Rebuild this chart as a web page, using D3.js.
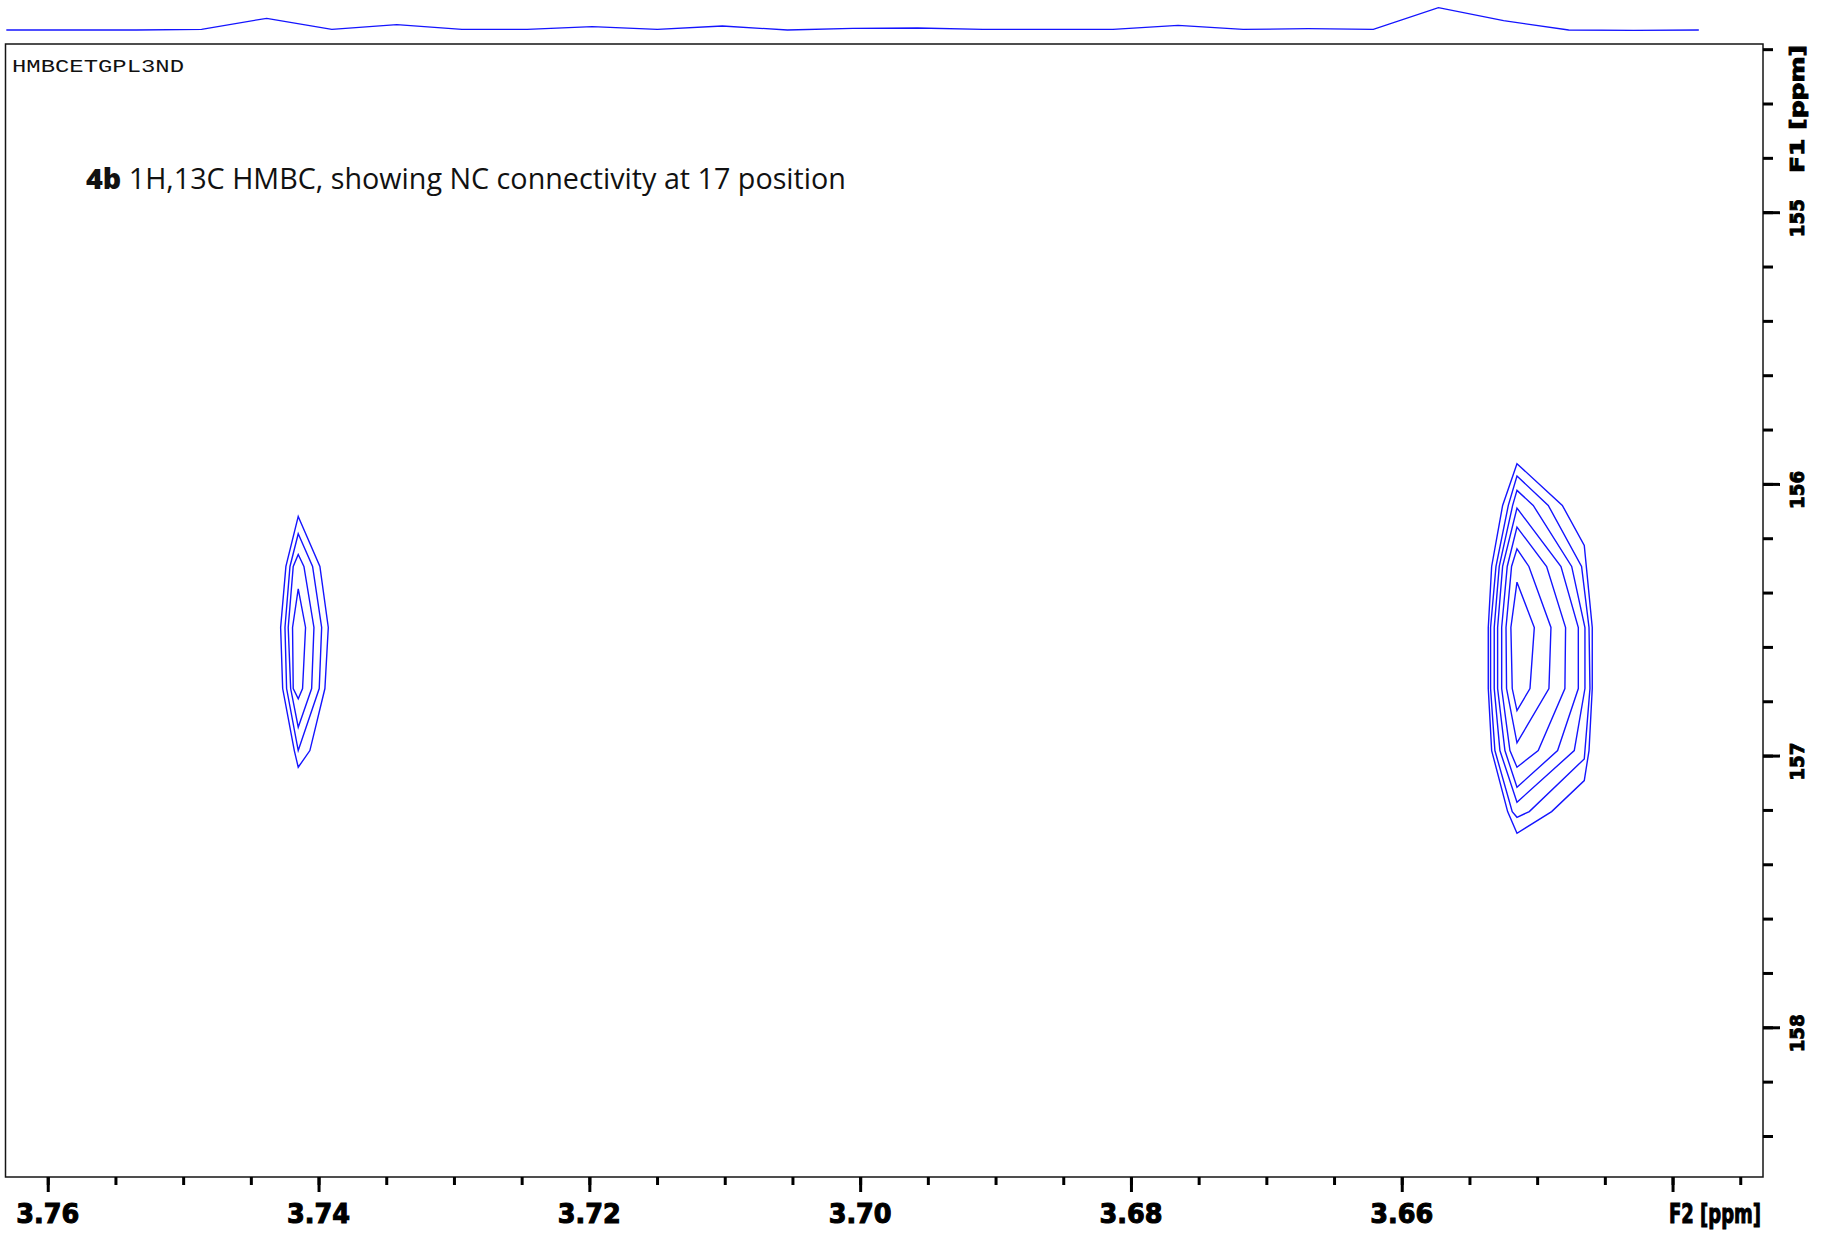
<!DOCTYPE html>
<html>
<head>
<meta charset="utf-8">
<script src="https://cdn.jsdelivr.net/npm/d3@7"></script>
<style>
  html, body { margin: 0; padding: 0; background: #fff; }
  svg { display: block; }
</style>
</head>
<body>
<svg id="chart" width="1827" height="1234"></svg>
<script>
// ---------- DATA ----------
// F2 (1H) projection trace: chemical shift (ppm) and intensity (arb.)
const projPpm = [3.76306, 3.75826, 3.75345, 3.74864, 3.74383, 3.73902, 3.73422, 3.72941, 3.72460,
  3.71979, 3.71498, 3.71018, 3.70537, 3.70056, 3.69575, 3.69094, 3.68614, 3.68133, 3.67652,
  3.67171, 3.66690, 3.66210, 3.65729, 3.65248, 3.64767, 3.64286, 3.63806];
const projInt = [0, 0, 0, 0.7, 11.7, 0.7, 5.3, 0.7, 0.7, 3.3, 0.7, 4.0, 0, 1.7, 2.0, 0.7, 0.7,
  0.7, 4.7, 0.7, 1.3, 0.7, 22.3, 9.3, 0, -0.3, 0];

// Cross peak near F2 3.7415 ppm: contour rings [F2 ppm, F1 ppm]
const peakA_ring1 = [[3.74150,156.1197],[3.73990,156.3039],[3.73928,156.5285],[3.73953,156.7532],[3.74064,156.9815],[3.74150,157.0430],[3.74179,156.9815],[3.74265,156.7532],[3.74280,156.5285],[3.74241,156.3039]];
const peakA_ring2 = [[3.74150,156.1835],[3.74044,156.3039],[3.73977,156.5285],[3.73995,156.7532],[3.74150,156.9816],[3.74236,156.7532],[3.74248,156.5285],[3.74211,156.3039]];
const peakA_ring3 = [[3.74150,156.2597],[3.74108,156.3039],[3.74034,156.5285],[3.74051,156.7532],[3.74150,156.8956],[3.74206,156.7532],[3.74224,156.5285],[3.74187,156.3039]];
const peakA_ring4 = [[3.74150,156.3861],[3.74096,156.5285],[3.74118,156.7532],[3.74150,156.7912],[3.74187,156.7532],[3.74192,156.5285]];

// Cross peak near F2 3.6515 ppm
const peakB_ring1 = [[3.65149,155.9257],[3.64814,156.0792],[3.64652,156.2265],[3.64593,156.5285],[3.64593,156.7532],[3.64617,156.9815],[3.64652,157.0920],[3.64893,157.2062],[3.65149,157.2860],[3.65218,157.2062],[3.65336,156.9815],[3.65361,156.7532],[3.65361,156.5285],[3.65336,156.3039],[3.65255,156.0792]];
const peakB_ring2 = [[3.65149,155.9711],[3.64918,156.0792],[3.64672,156.3039],[3.64617,156.5285],[3.64610,156.7532],[3.64652,157.0122],[3.65058,157.2062],[3.65149,157.2271],[3.65184,157.2062],[3.65312,156.9815],[3.65344,156.7532],[3.65344,156.5285],[3.65304,156.3039],[3.65213,156.0792]];
const peakB_ring3 = [[3.65149,156.0239],[3.65029,156.0792],[3.64745,156.3039],[3.64647,156.5285],[3.64647,156.7532],[3.64726,156.9815],[3.65149,157.1718],[3.65275,156.9815],[3.65317,156.7532],[3.65317,156.5285],[3.65280,156.3039],[3.65181,156.0792]];
const peakB_ring4 = [[3.65149,156.0890],[3.64824,156.3039],[3.64696,156.5285],[3.64696,156.7532],[3.64849,156.9815],[3.65149,157.1166],[3.65238,156.9815],[3.65292,156.7532],[3.65292,156.5285],[3.65255,156.3039]];
const peakB_ring5 = [[3.65149,156.1590],[3.64930,156.3039],[3.64790,156.5285],[3.64795,156.7532],[3.64992,156.9815],[3.65149,157.0429],[3.65201,156.9815],[3.65262,156.7532],[3.65262,156.5285],[3.65221,156.3039]];
const peakB_ring6 = [[3.65149,156.2388],[3.65061,156.3039],[3.64898,156.5285],[3.64913,156.7532],[3.65149,156.9533],[3.65226,156.7532],[3.65230,156.5285],[3.65189,156.3039]];
const peakB_ring7 = [[3.65149,156.3616],[3.65021,156.5285],[3.65053,156.7532],[3.65149,156.8342],[3.65184,156.7532],[3.65194,156.5285]];

// Axis ticks and labels
const f2MajorTicks = [3.76, 3.74, 3.72, 3.70, 3.68, 3.66, 3.64];
const f2TickLabels = ["3.76", "3.74", "3.72", "3.70", "3.68", "3.66"];
const f1MajorTicks = [155, 156, 157, 158];
const f1TickLabels = ["155", "156", "157", "158"];
const f2Title = "F2 [ppm]";
const f1Title = "F1 [ppm]";
const pulseProgram = "HMBCETGPL3ND";
const titleBold = "4b";
const titleRest = " 1H,13C HMBC, showing NC connectivity at 17 position";

// ---------- DRAW ----------
const svg = d3.select("#chart");
const frame = { left: 5.5, right: 1763, top: 44, bottom: 1177 };
const blue = "#1414ff";

const x = d3.scaleLinear().domain([3.76312, 3.63332]).range([frame.left, frame.right]);
const y = d3.scaleLinear().domain([154.381, 158.551]).range([frame.top, frame.bottom]);
const yProj = d3.scaleLinear().domain([0, 25]).range([30, 5]);

svg.append("rect").attr("width", 1827).attr("height", 1234).attr("fill", "#fff");

// projection trace
const projData = projPpm.map((p, i) => [p, projInt[i]]);
svg.append("path")
  .datum(projData)
  .attr("fill", "none")
  .attr("stroke", blue)
  .attr("stroke-width", 1.3)
  .attr("d", d3.line().x(d => x(d[0])).y(d => yProj(d[1])));

// frame
svg.append("rect")
  .attr("x", frame.left).attr("y", frame.top)
  .attr("width", frame.right - frame.left).attr("height", frame.bottom - frame.top)
  .attr("fill", "none").attr("stroke", "#151515").attr("stroke-width", 1.5);

// contours
const rings = [peakA_ring1, peakA_ring2, peakA_ring3, peakA_ring4,
  peakB_ring1, peakB_ring2, peakB_ring3, peakB_ring4, peakB_ring5, peakB_ring6, peakB_ring7];
const ringLine = d3.line().x(d => x(d[0])).y(d => y(d[1])).curve(d3.curveLinearClosed);
svg.append("g").selectAll("path").data(rings).join("path")
  .attr("d", ringLine)
  .attr("fill", "none")
  .attr("stroke", blue)
  .attr("stroke-width", 1.4)
  .attr("stroke-linejoin", "miter");

// x axis ticks
const f2Minor = d3.range(0, 26).map(i => +(3.76 - i * 0.005).toFixed(3));
const xMinorAxis = d3.axisBottom(x).tickValues(f2Minor).tickSize(8).tickFormat("");
const xMajorAxis = d3.axisBottom(x).tickValues(f2MajorTicks).tickSize(15).tickFormat("");
[xMinorAxis, xMajorAxis].forEach(ax => {
  const g = svg.append("g").attr("transform", `translate(0,${frame.bottom})`).call(ax);
  g.select(".domain").remove();
  g.selectAll("line").attr("stroke", "#000").attr("stroke-width", 3);
});

// y axis ticks
const f1Minor = d3.range(0, 21).map(i => +(154.4 + i * 0.2).toFixed(1));
const yMinorAxis = d3.axisRight(y).tickValues(f1Minor).tickSize(10).tickFormat("");
const yMajorAxis = d3.axisRight(y).tickValues(f1MajorTicks).tickSize(17).tickFormat("");
[yMinorAxis, yMajorAxis].forEach(ax => {
  const g = svg.append("g").attr("transform", `translate(${frame.right},0)`).call(ax);
  g.select(".domain").remove();
  g.selectAll("line").attr("stroke", "#000").attr("stroke-width", 3);
});

// x tick labels
svg.append("g").selectAll("text").data(f2TickLabels).join("text")
  .attr("x", (d, i) => x(f2MajorTicks[i]))
  .attr("y", 1223)
  .attr("text-anchor", "middle")
  .attr("font-family", "'DejaVu Sans', sans-serif")
  .attr("font-weight", "bold")
  .attr("font-size", 27)
  .attr("textLength", 63).attr("lengthAdjust", "spacingAndGlyphs")
  .attr("fill", "#000").attr("stroke", "#000").attr("stroke-width", 1.1)
  .text(d => d);

svg.append("text")
  .attr("x", 1669).attr("y", 1223)
  .attr("font-family", "'DejaVu Sans', sans-serif")
  .attr("font-weight", "bold")
  .attr("font-size", 27)
  .attr("textLength", 92).attr("lengthAdjust", "spacingAndGlyphs")
  .attr("fill", "#000").attr("stroke", "#000").attr("stroke-width", 1.1)
  .text(f2Title);

// y tick labels (rotated)
svg.append("g").selectAll("text").data(f1TickLabels).join("text")
  .attr("transform", (d, i) => `translate(1804,${y(f1MajorTicks[i]) + 6}) rotate(-90)`)
  .attr("text-anchor", "middle")
  .attr("font-family", "'DejaVu Sans', sans-serif")
  .attr("font-weight", "bold")
  .attr("font-size", 19)
  .attr("textLength", 38).attr("lengthAdjust", "spacingAndGlyphs")
  .attr("fill", "#000").attr("stroke", "#000").attr("stroke-width", 0.9)
  .text(d => d);

svg.append("text")
  .attr("transform", "translate(1804,173) rotate(-90)")
  .attr("font-family", "'DejaVu Sans', sans-serif")
  .attr("font-weight", "bold")
  .attr("font-size", 19)
  .attr("textLength", 128).attr("lengthAdjust", "spacingAndGlyphs")
  .attr("fill", "#000").attr("stroke", "#000").attr("stroke-width", 0.9)
  .text(f1Title);

// pulse program label
svg.append("text")
  .attr("x", 12).attr("y", 72)
  .attr("font-family", "'Courier New', 'Nimbus Mono PS', FreeMono, 'Liberation Mono', monospace")
  .attr("font-size", 19)
  .attr("textLength", 172).attr("lengthAdjust", "spacingAndGlyphs")
  .attr("fill", "#111")
  .text(pulseProgram);

// title
const t = svg.append("text")
  .attr("x", 86).attr("y", 189)
  .attr("font-family", "'Open Sans', 'Noto Sans', sans-serif")
  .attr("font-size", 29)
  .attr("fill", "#111")
  .attr("textLength", 760).attr("lengthAdjust", "spacingAndGlyphs");
t.append("tspan").attr("font-weight", 800).text(titleBold);
t.append("tspan").attr("font-weight", 400).text(titleRest);
</script>
</body>
</html>
